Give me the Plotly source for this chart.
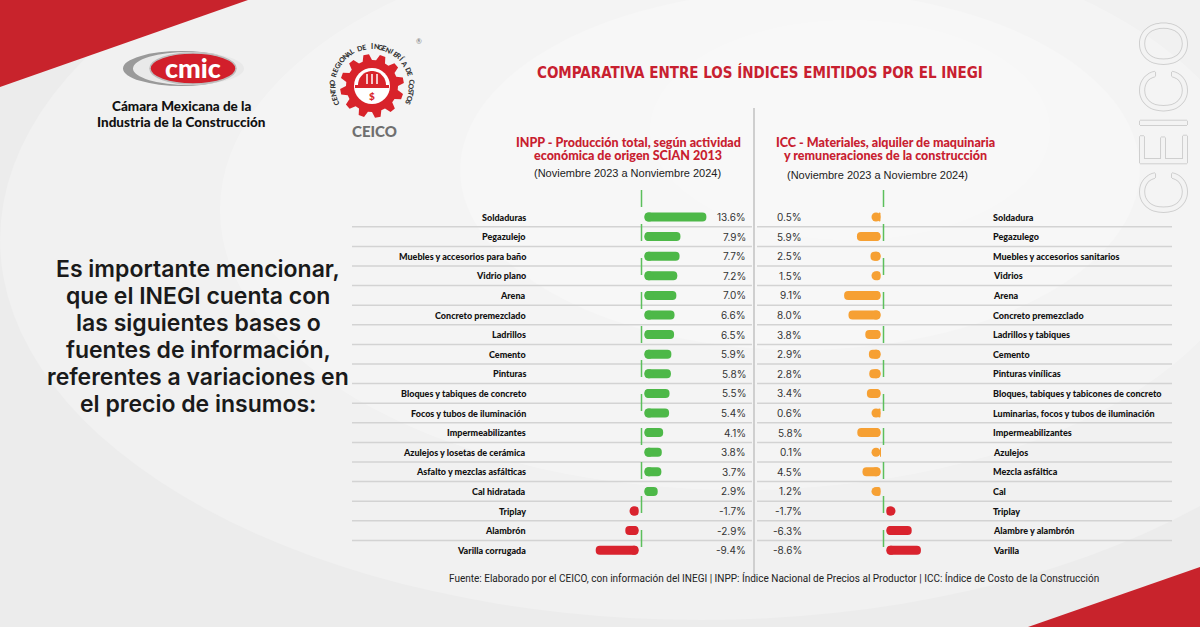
import numpy as np
import plotly.graph_objects as go

W, H = 1200, 627

# ---------------- data ----------------
inpp_labels = ["Soldaduras", "Pegazulejo", "Muebles y accesorios para baño", "Vidrio plano",
               "Arena", "Concreto premezclado", "Ladrillos", "Cemento", "Pinturas",
               "Bloques y tabiques de concreto", "Focos y tubos de iluminación",
               "Impermeabilizantes", "Azulejos y losetas de cerámica",
               "Asfalto y mezclas asfálticas", "Cal hidratada", "Triplay", "Alambrón",
               "Varilla corrugada"]
inpp_values = [13.6, 7.9, 7.7, 7.2, 7.0, 6.6, 6.5, 5.9, 5.8, 5.5, 5.4, 4.1, 3.8, 3.7, 2.9,
               -1.7, -2.9, -9.4]

icc_labels = ["Soldadura", "Pegazulego", "Muebles y accesorios sanitarios", "Vidrios", "Arena",
              "Concreto premezclado", "Ladrillos y tabiques", "Cemento", "Pinturas vinílicas",
              "Bloques, tabiques y tabicones de concreto",
              "Luminarias, focos y tubos de iluminación", "Impermeabilizantes", "Azulejos",
              "Mezcla asfáltica", "Cal", "Triplay", "Alambre y alambrón", "Varilla"]
icc_values = [0.5, 5.9, 2.5, 1.5, 9.1, 8.0, 3.8, 2.9, 2.8, 3.4, 0.6, 5.8, 0.1, 4.5, 1.2,
              -1.7, -6.3, -8.6]

title_text = "COMPARATIVA ENTRE LOS ÍNDICES EMITIDOS POR EL INEGI"
inpp_header = ["INPP - Producción total, según actividad", "económica de origen SCIAN 2013"]
inpp_period = "(Noviembre 2023 a Nonviembre 2024)"
icc_header = ["ICC - Materiales, alquiler de maquinaria", "y remuneraciones de la construcción"]
icc_period = "(Noviembre 2023 a Noviembre 2024)"
side_lines = ["Es importante mencionar,", "que el INEGI cuenta con", "las siguientes bases o",
              "fuentes de información,", "referentes a variaciones en", "el precio de insumos:"]
footer_text = ("Fuente: Elaborado por el CEICO, con información del INEGI | INPP: Índice Nacional "
               "de Precios al Productor | ICC: Índice de Costo de la Construcción")

# ---------------- styling ----------------
LATO = "Lato, 'Noto Sans', sans-serif"
INTER = "Inter, 'Noto Sans', sans-serif"
ARIAL = "'Liberation Sans', Arial, sans-serif"
NARROW = ("'Noto Sans ExtraCondensed', 'Noto Sans Condensed', 'Liberation Sans Narrow', "
          "'DejaVu Sans Condensed', sans-serif")
RED = "#c8202f"
BAR_RED = "#d9232e"
GREEN = "#4db848"
ORANGE = "#f6a033"
ZERO_GREEN = "#5cbf5c"


def px(x):
    return x / W


def py(y):
    return 1 - y / H


N = len(inpp_values)
ROW0, ROWH = 217.0, 19.6
Y_TOP = ROW0 - ROWH / 2
Y_BOT = ROW0 + (N - 0.5) * ROWH
rows = list(range(N))

# left axis geometry (pixels)
ZL, SL = 641.5, 4.55
L0, L1 = 560, 745
# right axis geometry (reversed)
ZR, SR = 883.5, 4.0
R0, R1 = 800, 970

BAR_T = 9.0  # bar thickness in px
GAP_L, GAP_R = 3.0 / SL, 3.0 / SR
CAP_L, CAP_R = (BAR_T / 2) / SL, (BAR_T / 2) / SR

inpp_sign = np.sign(inpp_values)
icc_sign = np.sign(icc_values)
inpp_colors = [GREEN if v >= 0 else BAR_RED for v in inpp_values]
icc_colors = [ORANGE if v >= 0 else BAR_RED for v in icc_values]

fig = go.Figure()

fig.add_trace(go.Bar(
    y=rows, x=inpp_values, base=list(inpp_sign * GAP_L), orientation="h",
    width=BAR_T / ROWH, marker=dict(color=inpp_colors, cornerradius="50%", line=dict(width=0)),
    xaxis="x", yaxis="y", hoverinfo="skip", showlegend=False))
fig.add_trace(go.Scatter(
    y=rows, x=list(inpp_sign * (GAP_L + CAP_L)), mode="markers",
    marker=dict(size=BAR_T, color=inpp_colors, line=dict(width=0)),
    xaxis="x", yaxis="y", hoverinfo="skip", showlegend=False))

fig.add_trace(go.Bar(
    y=rows, x=icc_values, base=list(icc_sign * GAP_R), orientation="h",
    width=BAR_T / ROWH, marker=dict(color=icc_colors, cornerradius="50%", line=dict(width=0)),
    xaxis="x2", yaxis="y", hoverinfo="skip", showlegend=False))
fig.add_trace(go.Scatter(
    y=rows, x=list(icc_sign * (GAP_R + CAP_R)), mode="markers",
    marker=dict(size=BAR_T, color=icc_colors, line=dict(width=0)),
    xaxis="x2", yaxis="y", hoverinfo="skip", showlegend=False))

shapes = []
annotations = []


def T(text, x, y, size, color="#222", family=LATO, weight="normal", xanchor="center",
      yanchor="middle", angle=0, yref="paper", shadow=None):
    font = dict(size=size, color=color, family=family, weight=weight)
    if shadow:
        font["shadow"] = shadow
    annotations.append(dict(
        text=text, x=px(x), y=(py(y) if yref == "paper" else y), xref="paper", yref=yref,
        showarrow=False, font=font, xanchor=xanchor, yanchor=yanchor, textangle=angle,
        borderpad=0))


# ---------- background ----------
for (cx, cy, rx, ry, op) in [(700, 240, 700, 380, 0.25), (740, 210, 520, 280, 0.25),
                             (800, 170, 340, 180, 0.25), (850, 130, 200, 110, 0.2)]:
    shapes.append(dict(type="circle", xref="paper", yref="paper", layer="below",
                       x0=px(cx - rx), x1=px(cx + rx), y0=py(cy + ry), y1=py(cy - ry),
                       fillcolor="white", opacity=op, line=dict(width=0)))

# red corner triangles
shapes.append(dict(type="path", xref="paper", yref="paper", layer="below",
                   path=f"M {px(0)},{py(0)} L {px(248)},{py(0)} L {px(0)},{py(87)} Z",
                   fillcolor="#c8232c", line=dict(width=0)))
shapes.append(dict(type="path", xref="paper", yref="paper", layer="below",
                   path=f"M {px(1028)},{py(627)} L {px(1200)},{py(567)} L {px(1200)},{py(627)} Z",
                   fillcolor="#c8232c", line=dict(width=0)))

# watermark
T("CEICO", 1163, 118, 64, color="#f3f3f3", family=INTER, weight=300, angle=-90,
  shadow="1px 0 0 #cfcfcf, -1px 0 0 #cfcfcf, 0 1px 0 #cfcfcf, 0 -1px 0 #cfcfcf")

# ---------- grid of rows ----------
for k in range(N - 1):
    yk = k + 0.5
    shapes.append(dict(type="line", xref="paper", yref="y", x0=px(352), x1=px(752), y0=yk, y1=yk,
                       line=dict(color="#d3d3d3", width=1.5), layer="below"))
    shapes.append(dict(type="line", xref="paper", yref="y", x0=px(757), x1=px(1172), y0=yk, y1=yk,
                       line=dict(color="#d3d3d3", width=1.5), layer="below"))

# vertical divider
shapes.append(dict(type="line", xref="paper", yref="paper", x0=px(754), x1=px(754),
                   y0=py(108), y1=py(575), line=dict(color="#cfcfcf", width=2), layer="below"))

# dashed zero lines
for xr in ["x", "x2"]:
    shapes.append(dict(type="line", xref=xr, yref="paper", x0=0, x1=0, y0=py(190), y1=py(558),
                       line=dict(color=ZERO_GREEN, width=1.5, dash="17px,17px")))

# ---------- row labels ----------
for i in rows:
    T(inpp_labels[i], 527, i, 9, color="#111", family=LATO, weight=900, xanchor="right", yref="y")
    T(f"{inpp_values[i]:.1f}%", 747, i, 10, color="#333", family=INTER, xanchor="right", yref="y")
    T(f"{icc_values[i]:.1f}%", 803, i, 10, color="#333", family=INTER, xanchor="right", yref="y")
    T(icc_labels[i], 992, i, 9, color="#111", family=LATO, weight=900, xanchor="left", yref="y")

# ---------- headers ----------
T(title_text, 760, 73, 15, color=RED, family=NARROW, weight="bold")
T(inpp_header[0], 628, 142, 12.5, color=RED, family=LATO, weight=900)
T(inpp_header[1], 628, 156, 12.5, color=RED, family=LATO, weight=900)
T(inpp_period, 627, 173, 11, color="#222", family=ARIAL)
T(icc_header[0], 885, 142, 12.5, color=RED, family=LATO, weight=900)
T(icc_header[1], 885, 156, 12.5, color=RED, family=LATO, weight=900)
T(icc_period, 877, 175, 11, color="#222", family=ARIAL)

# side text
for j, line in enumerate(side_lines):
    T(line, 198, 269 + j * 27, 23, color="#1a1a1a", family=INTER, weight=600)

# footer
T(footer_text, 774, 578, 10, color="#222", family="Roboto, sans-serif")

# ---------- CMIC logo ----------
shapes.append(dict(type="circle", xref="paper", yref="paper", x0=px(123), x1=px(240),
                   y0=py(86), y1=py(51), fillcolor="#9a9a9a", line=dict(width=0)))
shapes.append(dict(type="circle", xref="paper", yref="paper", x0=px(133), x1=px(244),
                   y0=py(85), y1=py(52), fillcolor="#e9e9e9", line=dict(width=0)))
shapes.append(dict(type="circle", xref="paper", yref="paper", x0=px(150), x1=px(236),
                   y0=py(84), y1=py(53), fillcolor="#d21f2b", line=dict(color="#bdbdbd", width=1.5)))
T("cmic", 193, 67, 27, color="white", family=LATO, weight=900)
T("Cámara Mexicana de la", 181, 106, 13.5, color="#111", family=LATO, weight=900)
T("Industria de la Construcción", 181, 122, 13.5, color="#111", family=LATO, weight=900)

# ---------- CEICO logo ----------
CX, CY = 372, 86
teeth, r_out, r_in = 12, 32, 26
pts = []
for i in range(teeth):
    a = 2 * np.pi * i / teeth
    step = 2 * np.pi / teeth
    for frac, r in [(0.0, r_in), (0.18, r_out), (0.52, r_out), (0.70, r_in)]:
        ang = a + frac * step
        pts.append((CX + r * np.cos(ang), CY - r * np.sin(ang)))
gear = "M " + " L ".join(f"{px(x):.5f},{py(y):.5f}" for x, y in pts) + " Z"
shapes.append(dict(type="path", xref="paper", yref="paper", path=gear,
                   fillcolor="#d8232a", line=dict(width=0)))
shapes.append(dict(type="circle", xref="paper", yref="paper", x0=px(CX - 18), x1=px(CX + 18),
                   y0=py(CY + 18), y1=py(CY - 18), fillcolor="white", line=dict(width=0)))
# helmet
hp = [(CX + 14 * np.cos(t), CY - 1 - 14 * np.sin(t)) for t in np.linspace(0, np.pi, 20)]
helmet = "M " + " L ".join(f"{px(x):.5f},{py(y):.5f}" for x, y in hp) + " Z"
shapes.append(dict(type="path", xref="paper", yref="paper", path=helmet,
                   fillcolor="#d8232a", line=dict(width=0)))
shapes.append(dict(type="rect", xref="paper", yref="paper", x0=px(CX - 17), x1=px(CX + 17),
                   y0=py(CY + 2), y1=py(CY - 1), fillcolor="#d8232a", line=dict(width=0)))
for dx in (-5, 0, 5):
    shapes.append(dict(type="line", xref="paper", yref="paper", x0=px(CX + dx), x1=px(CX + dx),
                       y0=py(CY - 2), y1=py(CY - 12), line=dict(color="white", width=1.5)))
T("$", CX, CY + 10, 10, color="#d8232a", family=LATO, weight=900)
T("CEICO", 374, 131, 15, color="#6f6f6f", family=LATO, weight=900)
T("®", 419, 41, 7, color="#777", family=LATO)
ring = "CENTRO REGIONAL DE INGENIERÍA DE COSTOS"
angs = np.linspace(205, -25, len(ring))
for ch, th in zip(ring, angs):
    r = 40
    x = CX + r * np.cos(np.radians(th))
    y = CY - r * np.sin(np.radians(th))
    T(ch, x, y, 7, color="#333", family=LATO, weight=900, angle=90 - th)

# ---------- layout ----------
fig.update_layout(
    width=W, height=H, margin=dict(l=0, r=0, t=0, b=0), autosize=False,
    paper_bgcolor="#ececec", plot_bgcolor="rgba(0,0,0,0)",
    showlegend=False, barmode="overlay",
    xaxis=dict(domain=[px(L0), px(L1)], range=[(L0 - ZL) / SL, (L1 - ZL) / SL],
               visible=False, fixedrange=True),
    xaxis2=dict(domain=[px(R0), px(R1)], range=[(ZR - R0) / SR, -(R1 - ZR) / SR],
                visible=False, fixedrange=True, anchor="y"),
    yaxis=dict(domain=[py(Y_BOT), py(Y_TOP)], range=[N - 0.5, -0.5], visible=False,
               fixedrange=True, anchor="x"),
    shapes=shapes, annotations=annotations,
)

fig.write_html("out.html")
